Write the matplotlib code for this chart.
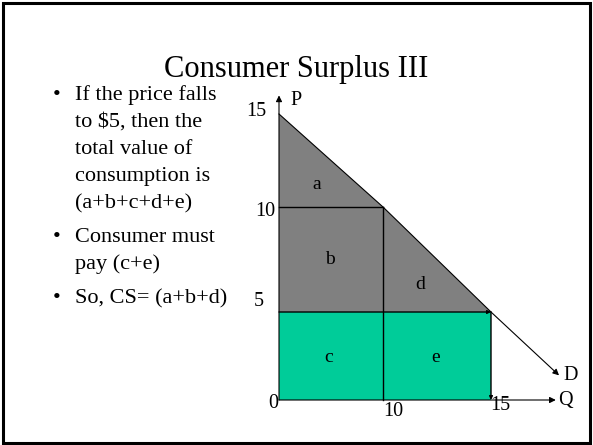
import numpy as np
import matplotlib
matplotlib.use('Agg')
import matplotlib.pyplot as plt
from matplotlib.patches import Polygon, Rectangle

# Data
price_ticks = [0, 5, 10, 15]
qty_ticks = [0, 10, 15]
demand_q = [0, 10, 15, 18.15]
demand_p = [15, 10, 5, 1.4]
old_price, old_qty = 10, 10
new_price, new_qty = 5, 15
p_axis_top = 16
q_axis_end = 18.0
region_labels = ['a', 'b', 'c', 'd', 'e']
region_q = [3.6, 4.9, 4.8, 11.7, 12.45]
region_p = [11.2, 7.5, 2.4, 6.3, 2.4]

title = 'Consumer Surplus III'
bullets = [
    ['If the price falls', 'to $5, then the', 'total value of', 'consumption is', '(a+b+c+d+e)'],
    ['Consumer must', 'pay (c+e)'],
    ['So, CS= (a+b+d)'],
]

W, H = 593, 445
# where the tick values sit on the hand drawn diagram (pixels)
q_pix = [279, 383, 491]
p_pix = [H - 400, H - 312, H - 207, H - 114]


def piecewise(src, dst):
    src = np.asarray(src, float)
    dst = np.asarray(dst, float)
    lo = (dst[1] - dst[0]) / (src[1] - src[0])
    hi = (dst[-1] - dst[-2]) / (src[-1] - src[-2])

    def f(v):
        v = np.asarray(v, float)
        out = np.interp(v, src, dst)
        out = np.where(v < src[0], dst[0] + (v - src[0]) * lo, out)
        out = np.where(v > src[-1], dst[-1] + (v - src[-1]) * hi, out)
        return out
    return f


qf, qi = piecewise(qty_ticks, q_pix), piecewise(q_pix, qty_ticks)
pf, pi = piecewise(price_ticks, p_pix), piecewise(p_pix, price_ticks)

fig = plt.figure(figsize=(W / 100, H / 100), dpi=100)
ax = fig.add_axes([0, 0, 1, 1])
ax.set_xscale('function', functions=(qf, qi))
ax.set_yscale('function', functions=(pf, pi))
ax.set_xlim(float(qi(0)), float(qi(W)))
ax.set_ylim(float(pi(0)), float(pi(H)))
ax.axis('off')

serif = 'Liberation Serif'
grey = '#808080'
green = '#00CC99'

# shaded areas: grey above the new price, green below it
grey_pts = [(0, new_price)] + list(zip(demand_q[:3], demand_p[:3]))
ax.add_patch(Polygon(grey_pts, closed=True, facecolor=grey, edgecolor='none'))
ax.add_patch(Polygon([(0, 0), (0, new_price), (new_qty, new_price), (new_qty, 0)],
                     closed=True, facecolor=green, edgecolor='none'))

# old price / quantity guides
ax.plot([0, old_qty], [old_price, old_price], color='black', lw=1)
ax.plot([old_qty, old_qty], [0, old_price], color='black', lw=1)

arrow = dict(arrowstyle='-|>', color='black', lw=0.8, mutation_scale=9,
             shrinkA=0, shrinkB=0)
small = dict(arrowstyle='-|>', color='black', lw=1, mutation_scale=5,
             shrinkA=0, shrinkB=0)
ax.annotate('', xy=(new_qty, new_price), xytext=(0, new_price), arrowprops=small)
ax.annotate('', xy=(new_qty, 0), xytext=(new_qty, new_price), arrowprops=small)

# demand curve and axes
ax.plot(demand_q[:3], demand_p[:3], color='black', lw=0.8)
ax.annotate('', xy=(demand_q[3], demand_p[3]), xytext=(demand_q[2], demand_p[2]),
            arrowprops=arrow)
ax.annotate('', xy=(0, p_axis_top), xytext=(0, 0), arrowprops=arrow)
ax.annotate('', xy=(q_axis_end, 0), xytext=(0, 0), arrowprops=arrow)

lab = dict(textcoords='offset pixels', fontsize=14.5, family=serif,
           ha='center', va='center')
ax.annotate('P', xy=(0, p_axis_top), xytext=(17, -5), **lab)
ax.annotate('Q', xy=(q_axis_end, 0), xytext=(10, 0), **lab)
ax.annotate('D', xy=(demand_q[3], demand_p[3]), xytext=(12, 0), **lab)

# tick labels, placed by hand like the slide
p_offsets = [(-6, -4), (-20, 11), (-14, -4), (-23, 2)]
for p, off in zip(price_ticks, p_offsets):
    ax.annotate(str(p), xy=(0, p), xytext=off, **lab)
q_offsets = [(10, -12), (9, -6)]
for q, off in zip(qty_ticks[1:], q_offsets):
    ax.annotate(str(q), xy=(q, 0), xytext=off, **lab)

for s, q, p in zip(region_labels, region_q, region_p):
    ax.text(q, p, s, fontsize=14, family=serif, ha='center', va='center')

# slide text
fig.text(296 / W, 1 - 69 / H, title, fontsize=22, family=serif,
         ha='center', va='center')
y = 100
for para in bullets:
    fig.text(57 / W, 1 - y / H, '\u2022', fontsize=16, family=serif,
             ha='center', va='baseline')
    for line in para:
        fig.text(75 / W, 1 - y / H, line, fontsize=16, family=serif,
                 ha='left', va='baseline')
        y += 27
    y += 7

# slide border
fig.add_artist(Rectangle((3 / W, 2 / H), 587 / W, 440 / H, transform=fig.transFigure,
                         fill=False, edgecolor='black', lw=2.2))

fig.savefig('out.png', dpi=100)
